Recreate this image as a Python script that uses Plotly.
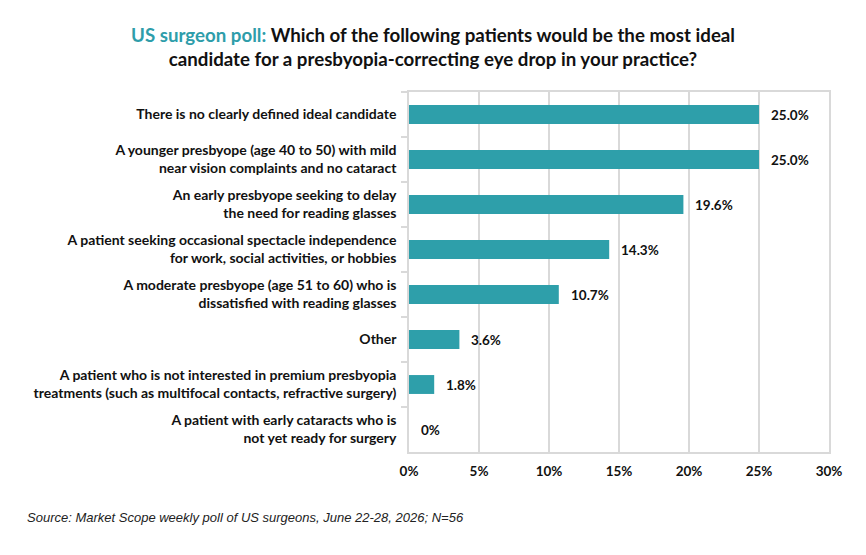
import plotly.graph_objects as go

categories = [
    "There is no clearly defined ideal candidate",
    "A younger presbyope (age 40 to 50) with mild<br>near vision complaints and no cataract",
    "An early presbyope seeking to delay<br>the need for reading glasses",
    "A patient seeking occasional spectacle independence<br>for work, social activities, or hobbies",
    "A moderate presbyope (age 51 to 60) who is<br>dissatisfied with reading glasses",
    "Other",
    "A patient who is not interested in premium presbyopia<br>treatments (such as multifocal contacts, refractive surgery)",
    "A patient with early cataracts who is<br>not yet ready for surgery",
]
values = [25.0, 25.0, 19.6, 14.3, 10.7, 3.6, 1.8, 0.0]
value_labels = ["25.0%", "25.0%", "19.6%", "14.3%", "10.7%", "3.6%", "1.8%", "0%"]
tick_vals = [0, 5, 10, 15, 20, 25, 30]
tick_text = ["0%", "5%", "10%", "15%", "20%", "25%", "30%"]

TEAL = "#2E9FAA"
GRID = "#D9D9D9"
FONT = "Lato"

W, H = 866, 555
ML, MR, MT, MB = 401, 45, 84, 111
PW, PH = W - ML - MR, H - MT - MB

fig = go.Figure()
fig.add_trace(go.Bar(
    x=values, y=categories, orientation="h",
    marker=dict(color=TEAL, line=dict(width=0)),
    width=0.42, hoverinfo="skip",
))

for v, c, t in zip(values, categories, value_labels):
    fig.add_annotation(x=v, y=c, text=t, showarrow=False, xanchor="left",
                       xshift=10, font=dict(family=FONT, size=13.5, color="#111111", weight="bold"))

fig.update_layout(
    width=W, height=H,
    margin=dict(l=ML, r=MR, t=MT, b=MB),
    plot_bgcolor="white", paper_bgcolor="white",
    showlegend=False,
    font=dict(family=FONT, color="#111111"),
    title=dict(
        text="<span style='color:#2E9DAA'>US surgeon poll:</span> Which of the following patients would be the most ideal<br>candidate for a presbyopia-correcting eye drop in your practice?",
        x=(433 - 8) / W, xanchor="center", xref="container",
        y=1 - (42 - 8) / H, yanchor="middle",
        font=dict(family=FONT, size=18.7, color="#111111", weight="bold"),
    ),
    xaxis=dict(
        range=[0, 30], tickvals=tick_vals, ticktext=tick_text,
        showgrid=True, gridcolor=GRID, gridwidth=1.5,
        showline=True, linecolor=GRID, linewidth=1.5, mirror=True,
        ticks="", zeroline=False,
        tickfont=dict(family=FONT, size=13.5, color="#111111", weight="bold"),
        ticklabelstandoff=6,
    ),
    yaxis=dict(
        autorange="reversed",
        showline=True, linecolor=GRID, linewidth=1.5, mirror=True,
        ticks="outside", tickson="boundaries", ticklen=6, tickcolor=GRID, tickwidth=1.5,
        tickfont=dict(family=FONT, size=14, color="#111111", weight="bold"),
        ticklabelstandoff=8,
        showgrid=False,
    ),
)

fig.add_annotation(
    xref="paper", yref="paper",
    x=(25 - 8 - ML) / PW, y=-((517 - 8) - (MT + PH)) / PH,
    text="Source: Market Scope weekly poll of US surgeons, June 22-28, 2026; N=56",
    showarrow=False, xanchor="left", yanchor="middle",
    font=dict(family="Liberation Sans", size=13, color="#222222", style="italic"),
)

fig.write_html("out.html")
